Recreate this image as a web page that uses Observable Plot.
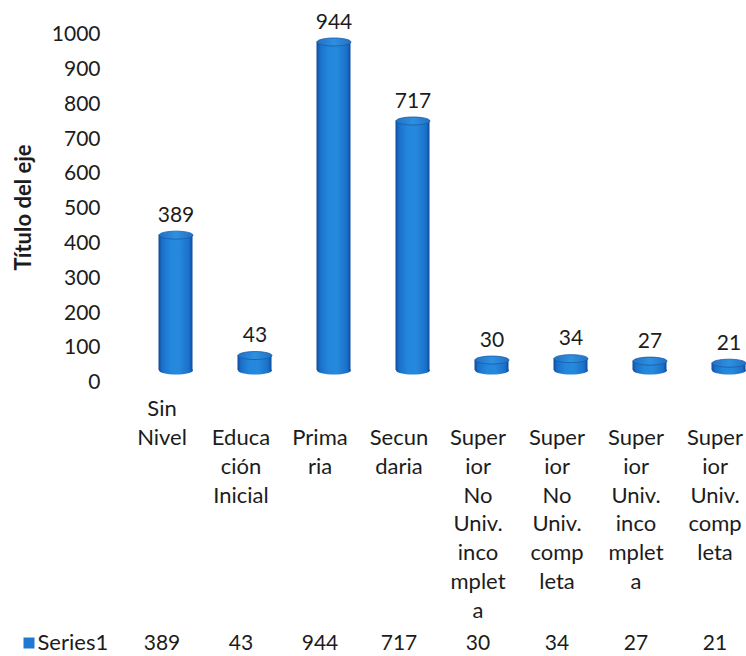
<!DOCTYPE html>
<html>
<head>
<meta charset="utf-8">
<script src="https://cdn.jsdelivr.net/npm/d3@7"></script>
<script src="https://cdn.jsdelivr.net/npm/@observablehq/plot@0.6"></script>
<style>
  body { margin: 0; background: #fff; }
  #chart { width: 746px; height: 656px; }
</style>
</head>
<body>
<div id="chart"></div>
<script>
// Education level counts, one cylinder per category
const categories = [
  "Sin Nivel", "Educación Inicial", "Primaria", "Secundaria",
  "Superior No Univ. incompleta", "Superior No Univ. completa",
  "Superior Univ. incompleta", "Superior Univ. completa"
];
// Category labels as they wrap under each column
const categoryLines = [
  "Sin\nNivel", "Educa\nción\nInicial", "Prima\nria", "Secun\ndaria",
  "Super\nior\nNo\nUniv.\ninco\nmplet\na", "Super\nior\nNo\nUniv.\ncomp\nleta",
  "Super\nior\nUniv.\ninco\nmplet\na", "Super\nior\nUniv.\ncomp\nleta"
];
const values = [389, 43, 944, 717, 30, 34, 27, 21];
const yTicks = [0, 100, 200, 300, 400, 500, 600, 700, 800, 900, 1000];
const seriesName = "Series1";
const axisTitle = "Título del eje";

const data = categories.map((c, i) => ({cat: c, lines: categoryLines[i], value: values[i], i}));

const ink = "#1c1c1c";
const font = "Lato, 'Open Sans', sans-serif";
const left = 100;      // left margin (frame edge)
const shift = 14;      // depth offset of the cylinders
const rx = 17, ry = 4; // cylinder cap radii

// Flat ellipse used for the cylinder caps
const ellipse = {
  draw(ctx) {
    const k = 0.5523;
    ctx.moveTo(rx, 0);
    ctx.bezierCurveTo(rx, ry * k, rx * k, ry, 0, ry);
    ctx.bezierCurveTo(-rx * k, ry, -rx, ry * k, -rx, 0);
    ctx.bezierCurveTo(-rx, -ry * k, -rx * k, -ry, 0, -ry);
    ctx.bezierCurveTo(rx * k, -ry, rx, -ry * k, rx, 0);
    ctx.closePath();
  }
};
const legendSquare = {
  draw(ctx) { ctx.rect(-5.5, -5.5, 11, 11); }
};

const plot = Plot.plot({
  width: 746,
  height: 656,
  marginTop: 0,
  marginBottom: 0,
  marginLeft: left,
  marginRight: 0,
  style: {fontFamily: font, fontSize: "21px", color: ink, background: "#fff"},
  x: {type: "band", domain: categories, range: [121.5, 753.5], padding: 0, axis: null},
  y: {domain: [0, 1000], range: [370, 22], axis: null},
  marks: [
    // value axis labels
    Plot.axisY(yTicks, {anchor: "left", tickSize: 0, tickPadding: 0, dy: 12, fontSize: 21,
                        tickFormat: d => String(d), label: null, fill: ink}),
    Plot.text([axisTitle], {frameAnchor: "top-left", dx: 15 - left, dy: 207, rotate: -90,
                            textAnchor: "middle", fontWeight: "bold", fontSize: 22, fill: ink}),
    // cylinders: bottom cap, body, top cap
    Plot.dot(data, {x: "cat", y: () => 0, symbol: ellipse, dx: shift, fill: "url(#cylBody)", stroke: "none"}),
    Plot.barY(data, {x: "cat", y: "value", insetLeft: 22.5, insetRight: 22.5, dx: shift, fill: "url(#cylBody)"}),
    Plot.dot(data, {x: "cat", y: "value", symbol: ellipse, dx: shift, fill: "url(#cylTop)", stroke: "#1a5aa8", strokeWidth: 0.8}),
    // value labels above the cylinders
    Plot.text(data, {x: "cat", y: "value", text: d => String(d.value), dx: shift, dy: -20, fontSize: 21, fill: ink}),
    // category labels
    Plot.text(data.filter(d => d.i === 0), {x: "cat", text: "lines", frameAnchor: "top", lineAnchor: "top",
                                            dy: 395, lineHeight: 1.31, fontSize: 22, fill: ink}),
    Plot.text(data.filter(d => d.i > 0), {x: "cat", text: "lines", frameAnchor: "top", lineAnchor: "top",
                                           dy: 424, lineHeight: 1.31, fontSize: 22, fill: ink}),
    // data table row
    Plot.dot([seriesName], {frameAnchor: "bottom-left", dx: 28.5 - left, dy: -13.5, symbol: legendSquare, fill: "#1f78d1", stroke: "none"}),
    Plot.text([seriesName], {frameAnchor: "bottom-left", dx: 37 - left, dy: -7, textAnchor: "start", fontSize: 22, fill: ink}),
    Plot.text(data, {x: "cat", text: d => String(d.value), frameAnchor: "bottom", dy: -7, fontSize: 21, fill: ink})
  ]
});

// Shading for the cylinders
const defs = d3.select(plot).insert("defs", ":first-child");
const bodyGrad = defs.append("linearGradient").attr("id", "cylBody").attr("x1", 0).attr("x2", 1).attr("y1", 0).attr("y2", 0);
[[0, "#0f4a98"], [0.1, "#1a6fc8"], [0.35, "#2387dc"], [0.6, "#2689dc"], [0.9, "#1a70c8"], [1, "#0f4a98"]]
  .forEach(([o, c]) => bodyGrad.append("stop").attr("offset", o).attr("stop-color", c));
const capGrad = defs.append("linearGradient").attr("id", "cylTop").attr("x1", 0).attr("x2", 1).attr("y1", 0).attr("y2", 0);
[[0, "#1f72c6"], [0.5, "#2f90e0"], [1, "#1f72c6"]]
  .forEach(([o, c]) => capGrad.append("stop").attr("offset", o).attr("stop-color", c));

document.getElementById("chart").appendChild(plot);
</script>
</body>
</html>
